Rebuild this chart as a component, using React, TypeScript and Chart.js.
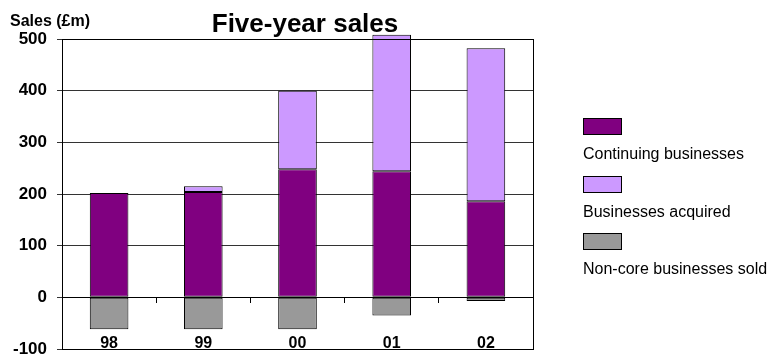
import React, { useEffect, useRef } from "react";
import { Chart, registerables } from "chart.js";

Chart.register(...registerables);

const categories = ["98", "99", "00", "01", "02"];
const continuing = [202, 204, 248, 244, 186];
const acquired = [0, 11, 152, 264, 296];
const sold = [-62, -62, -62, -35, -7];
const yTicks = [-100, 0, 100, 200, 300, 400, 500];

const seriesNames = ["Continuing businesses", "Businesses acquired", "Non-core businesses sold"];
const seriesColors = ["#800080", "#CC99FF", "#999999"];

const FONT = "'Liberation Sans', Arial, Helvetica, sans-serif";

const framePlugin = {
  id: "frame",
  afterDatasetsDraw(chart: any) {
    const { ctx, chartArea } = chart;
    ctx.save();
    ctx.strokeStyle = "#000";
    ctx.lineWidth = 1;
    ctx.strokeRect(
      Math.round(chartArea.left) + 0.5,
      Math.round(chartArea.top) + 0.5,
      Math.round(chartArea.right - chartArea.left),
      Math.round(chartArea.bottom - chartArea.top)
    );
    ctx.restore();
  },
};

export default function App() {
  const ref = useRef<HTMLCanvasElement>(null);

  useEffect(() => {
    document.body.style.margin = "0";
    const canvas = ref.current!;
    const chart = new Chart(canvas, {
      type: "bar",
      data: {
        labels: categories,
        datasets: [
          { label: seriesNames[0], data: continuing, backgroundColor: seriesColors[0] },
          { label: seriesNames[1], data: acquired, backgroundColor: seriesColors[1], clip: false as any },
          { label: seriesNames[2], data: sold, backgroundColor: seriesColors[2] },
        ].map((d) => ({
          ...d,
          borderColor: "#000",
          borderWidth: 1,
          borderSkipped: false,
          barPercentage: 0.41,
          categoryPercentage: 1,
          stack: "s",
        })) as any,
      },
      options: {
        responsive: false,
        maintainAspectRatio: false,
        animation: false,
        layout: { autoPadding: false, padding: { left: 0, right: 238, top: 39, bottom: 0 } },
        plugins: {
          legend: { display: false },
          tooltip: { enabled: false },
          title: { display: false },
        },
        scales: {
          x: {
            type: "category",
            stacked: true,
            offset: true,
            afterFit: (s: any) => {
              s.height = 8;
              s.paddingLeft = 0;
              s.paddingRight = 0;
            },
            grid: { display: false, drawTicks: false },
            border: { display: false },
            ticks: {
              color: "#000",
              font: { family: FONT, size: 16, weight: "bold" },
              mirror: true,
              padding: -4,
              maxRotation: 0,
              autoSkip: false,
            },
          },
          x2: {
            type: "category",
            position: { y: 0 } as any,
            offset: true,
            afterFit: (s: any) => {
              s.height = 0;
              s.paddingLeft = 0;
              s.paddingRight = 0;
            },
            grid: {
              offset: true,
              drawOnChartArea: false,
              drawTicks: true,
              tickLength: 5,
              color: "#000",
            },
            border: { display: true, color: "#000", width: 1 },
            ticks: { display: false },
          },
          y: {
            stacked: true,
            min: -100,
            max: 500,
            afterFit: (s: any) => {
              s.width = 62;
              s.paddingTop = 0;
              s.paddingBottom = 0;
            },
            afterBuildTicks: (s: any) => {
              s.ticks = yTicks.map((v) => ({ value: v }));
            },
            grid: { color: "#333", lineWidth: 1, drawTicks: true, tickLength: 5 },
            border: { display: true, color: "#000" },
            ticks: {
              color: "#000",
              font: { family: FONT, size: 17, weight: "bold" },
              padding: 10,
            },
          },
        },
      },
      plugins: [framePlugin],
    });
    return () => chart.destroy();
  }, []);

  return (
    <div style={{ position: "relative", width: 771, height: 357, background: "#fff", fontFamily: FONT }}>
      <canvas ref={ref} width={771} height={357} style={{ display: "block" }} />
      <div
        style={{
          position: "absolute",
          left: 0,
          width: 610,
          top: 8,
          textAlign: "center",
          fontSize: 26,
          fontWeight: "bold",
          color: "#000",
        }}
      >
        Five-year sales
      </div>
      <div style={{ position: "absolute", left: 10, top: 12, fontSize: 16, fontWeight: "bold", color: "#000" }}>
        Sales (£m)
      </div>
      {seriesNames.map((n, i) => (
        <div key={n} style={{ position: "absolute", left: 583, top: 118 + i * 57.5 }}>
          <div
            style={{
              width: 37,
              height: 15,
              background: seriesColors[i],
              border: "1.5px solid #000",
            }}
          />
          <div style={{ marginTop: 10, fontSize: 16, color: "#000", whiteSpace: "nowrap" }}>{n}</div>
        </div>
      ))}
    </div>
  );
}
